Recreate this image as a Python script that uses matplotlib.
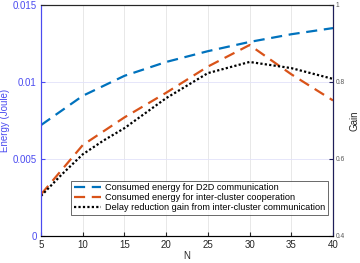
import matplotlib.pyplot as plt

plt.rcParams['font.family'] = ['Liberation Sans', 'DejaVu Sans']

# Data
N = [5, 10, 15, 20, 25, 30, 35, 40]
energyD2D = [0.0072, 0.0091, 0.0104, 0.0113, 0.0120, 0.0126, 0.0131, 0.0135]
energyInter = [0.0027, 0.0059, 0.0077, 0.0093, 0.0110, 0.0124, 0.0105, 0.0088]
gainN = [5, 7.5, 10, 12.5, 15, 20, 25, 30, 35, 40]
gain = [0.504, 0.56, 0.612, 0.648, 0.680, 0.758, 0.823, 0.852, 0.836, 0.808]

leftColor = '#4b4bf0'
rightColor = '#1e1e5a'

fig = plt.figure(figsize=(3.6, 2.63), dpi=100)
ax = fig.add_axes([0.114, 0.103, 0.811, 0.878])
ax2 = ax.twinx()

l1, = ax.plot(N, energyD2D, color='#0072BD', lw=1.6, dashes=(5, 3),
              label='Consumed energy for D2D communication')
l2, = ax.plot(N, energyInter, color='#D95319', lw=1.6, dashes=(5, 3),
              label='Consumed energy for inter-cluster cooperation')
l3, = ax2.plot(gainN, gain, color='black', lw=1.6, ls=(0, (1, 1)),
               label='Delay reduction gain from inter-cluster communication')

ax.set_xlim(5, 40)
ax.set_ylim(0, 0.015)
ax.set_xticks([5, 10, 15, 20, 25, 30, 35, 40])
ax.set_yticks([0, 0.005, 0.01, 0.015])
ax.set_yticklabels(['0', '0.005', '0.01', '0.015'])
ax2.set_ylim(0.4, 1)
ax2.set_yticks([0.4, 0.6, 0.8, 1])
ax2.set_yticklabels(['0.4', '0.6', '0.8', '1'])

# gridlines
for x in [10, 15, 20, 25, 30, 35]:
    ax.axvline(x, color='#e4e4e4', lw=0.6, zorder=0)
for y in [0.005, 0.01]:
    ax.axhline(y, color='#e2e2fa', lw=0.6, zorder=0)

ax.tick_params(axis='x', direction='in', labelsize=7, colors='#262626', length=3, pad=3)
ax.tick_params(axis='y', direction='in', labelsize=7, colors=leftColor, length=3, pad=3)
ax2.tick_params(axis='y', direction='in', labelsize=4.8, colors=rightColor,
                labelcolor='#555555', length=3, pad=2)
ax.spines['left'].set_color(leftColor)
ax2.spines['left'].set_color(leftColor)
ax2.spines['right'].set_color(rightColor)
ax.spines['top'].set_color('#262626')
ax2.spines['top'].set_color('#262626')
ax.spines['bottom'].set_color('#262626')
for s in ax.spines.values():
    s.set_linewidth(0.8)
for s in ax2.spines.values():
    s.set_linewidth(0.8)

ax.set_xlabel('N', fontsize=7, color='#262626', labelpad=1)
ax.set_ylabel('Energy (Joule)', fontsize=7, color=leftColor)
ax.yaxis.set_label_coords(-0.105, 0.5)
ax2.set_ylabel('Gain', fontsize=7, color='#262626')
ax2.yaxis.set_label_coords(1.056, 0.5)

leg = ax2.legend(handles=[l1, l2, l3], loc='lower right', bbox_to_anchor=(0.983, 0.091),
                 fontsize=6.6, frameon=True, fancybox=False, handlelength=3,
                 handletextpad=0.4, borderpad=0.3, labelspacing=0.1, borderaxespad=0)
leg.get_frame().set_edgecolor('#262626')
leg.get_frame().set_linewidth(0.6)

fig.savefig('out.png', dpi=100)
